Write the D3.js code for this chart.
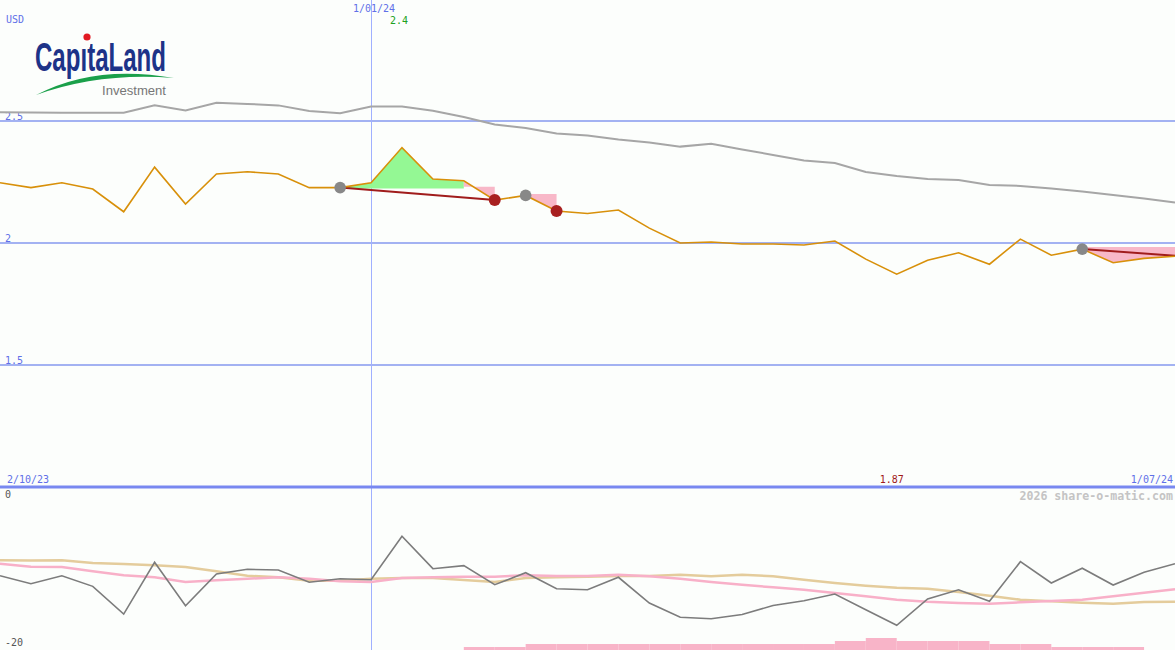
<!DOCTYPE html>
<html><head><meta charset="utf-8">
<script src="https://cdn.jsdelivr.net/npm/d3@7/dist/d3.min.js"></script>
<style>
html,body{margin:0;padding:0;background:#fcfefc;}
svg{display:block;}
</style></head>
<body>
<svg id="c" width="1175" height="650"></svg>
<script>
// ---- data ----
const xTickLabels = ["2/10/23", "1/01/24", "1/07/24"];
const xTickIndex = [0, 12, 38];
const yTicks = [2.5, 2, 1.5];
const lowerTicks = [0, -20];
const currency = "USD";
const price = [2.247,2.227,2.247,2.221,2.128,2.311,2.160,2.283,2.292,2.283,2.227,2.227,2.247,2.391,2.262,2.255,2.176,2.195,2.131,2.121,2.135,2.061,2.000,2.004,1.996,1.996,1.992,2.008,1.934,1.872,1.929,1.960,1.913,2.016,1.950,1.975,1.919,1.937,1.946];
const avgLine = [2.536,2.535,2.534,2.534,2.534,2.564,2.543,2.575,2.570,2.564,2.541,2.532,2.559,2.559,2.542,2.516,2.486,2.471,2.449,2.441,2.424,2.412,2.395,2.407,2.383,2.361,2.338,2.328,2.291,2.275,2.262,2.258,2.238,2.234,2.223,2.211,2.197,2.182,2.166];
const oscGray = [-10.83,-11.81,-10.83,-12.14,-15.56,-9.17,-14.53,-10.62,-10.04,-10.12,-11.64,-11.20,-11.32,-5.96,-9.96,-9.59,-11.94,-10.46,-12.43,-12.56,-11.02,-14.20,-15.96,-16.14,-15.62,-14.51,-13.91,-13.09,-15.02,-16.95,-13.70,-12.56,-13.99,-9.10,-11.73,-9.91,-11.98,-10.41,-9.35];
const oscTan = [-8.93,-8.95,-8.93,-9.26,-9.38,-9.54,-9.75,-10.28,-10.83,-11.02,-11.44,-11.44,-11.20,-11.11,-11.11,-11.36,-11.60,-11.11,-11.02,-10.95,-10.86,-10.86,-10.70,-10.90,-10.70,-10.90,-11.32,-11.73,-12.06,-12.31,-12.43,-12.84,-13.30,-13.79,-13.99,-14.16,-14.28,-14.07,-14.04];
const oscPink = [-9.35,-9.72,-9.75,-10.28,-10.78,-11.02,-11.60,-11.40,-11.20,-11.02,-11.20,-11.52,-11.60,-11.11,-11.02,-10.95,-10.95,-10.78,-10.86,-10.86,-10.70,-10.90,-11.20,-11.60,-11.94,-12.26,-12.56,-12.96,-13.37,-13.79,-14.04,-14.20,-14.28,-14.11,-13.95,-13.79,-13.37,-12.93,-12.51];
const barLevels = [0,0,0,0,0,0,0,0,0,0,0,0,0,0,0,1,1,2,2,2,2,2,2,2,2,2,2,3,4,3,3,3,2,2,1,1,1,0];
// signal overlays: [startIndex, endIndex, level, kind]
const fillZones = [[11,15,2.223,"gain"],[15,16,2.2307,"loss"],[17,18,2.2008,"loss"],[35,38,1.9836,"loss"]];
const trendLines = [[11,2.227,16,2.176],[35,1.975,38,1.948]];
const grayDots = [11,17,35];
const redDots = [16,18];
const maxLabel = "2.4", minLabel = "1.87";

// ---- scales ----
const W = 1175, H = 650;
const MONO = "'DejaVu Sans Mono', monospace";
const SANS = "'Liberation Sans', Arial, sans-serif";
const svg = d3.select("#c");
const x = d3.scaleLinear().domain([0, price.length - 1]).range([0, W]);
const y = d3.scaleLinear().domain([1, 3]).range([487, -1]);
const yl = d3.scaleLinear().domain([-20, 0]).range([650, 488]);
const bh = d3.scaleLinear().domain([0, 4]).range([0, 12]);

svg.append("rect").attr("width", W).attr("height", H).attr("fill", "#fcfefc");

// grid
svg.selectAll(".gl").data(yTicks).enter().append("line")
  .attr("x1", 0).attr("x2", W).attr("y1", d => y(d)).attr("y2", d => y(d))
  .attr("stroke", "#a3b2f2").attr("stroke-width", 2);
svg.selectAll(".gt").data(yTicks).enter().append("text")
  .attr("x", 5).attr("y", d => y(d) - 1).text(d => d)
  .style("font-family", MONO).attr("fill", "#6070e8").attr("font-size", 10);

// vertical date line
const vx = Math.round(x(xTickIndex[1])) + 0.5;
svg.append("line").attr("x1", vx).attr("x2", vx).attr("y1", 0).attr("y2", H)
  .attr("stroke", "#a0b0ff").attr("stroke-width", 1);

// separator
svg.append("line").attr("x1", 0).attr("x2", W).attr("y1", 487).attr("y2", 487)
  .attr("stroke", "#7888f0").attr("stroke-width", 3);

// logo
const logo = svg.append("g");
logo.append("text").attr("x", 35).attr("y", 71).text("CapitaLand")
  .style("font-family", SANS).style("font-weight", "bold")
  .attr("font-size", 40).attr("fill", "#1d3388").attr("textLength", 131).attr("lengthAdjust", "spacingAndGlyphs");
logo.append("rect").attr("x", 81).attr("y", 38).attr("width", 9).attr("height", 9).attr("fill", "#fcfefc");
logo.append("circle").attr("cx", 87).attr("cy", 37).attr("r", 3.6).attr("fill", "#e21a22");
logo.append("path").attr("d", "M36,95 Q95,64 174,78 Q100,72 36,95Z").attr("fill", "#1aa04a");
logo.append("text").attr("x", 102).attr("y", 95).text("Investment")
  .style("font-family", SANS)
  .attr("font-size", 13).attr("fill", "#777").attr("textLength", 64).attr("lengthAdjust", "spacingAndGlyphs");

// fills
fillZones.forEach(([a, b, lvl, kind]) => {
  const pts = d3.range(a, b + 1).map(i => [x(i), y(price[i])]);
  pts.push([x(b), y(lvl)], [x(a), y(lvl)]);
  svg.append("path").attr("d", d3.line()(pts) + "Z")
    .attr("fill", kind === "gain" ? "#94f894" : "#f8b8c8");
});

// avg line
svg.append("path").datum(avgLine)
  .attr("d", d3.line().x((d, i) => x(i)).y(d => y(d)))
  .attr("fill", "none").attr("stroke", "#a6a6a6").attr("stroke-width", 2);

// trend lines
trendLines.forEach(([i0, v0, i1, v1]) => {
  svg.append("line").attr("x1", x(i0)).attr("y1", y(v0)).attr("x2", x(i1)).attr("y2", y(v1))
    .attr("stroke", "#a01c1c").attr("stroke-width", 2);
});

// price line
svg.append("path").datum(price)
  .attr("d", d3.line().x((d, i) => x(i)).y(d => y(d)))
  .attr("fill", "none").attr("stroke", "#d8900a").attr("stroke-width", 1.6);

svg.selectAll(".gd").data(grayDots).enter().append("circle")
  .attr("cx", d => x(d)).attr("cy", d => y(price[d])).attr("r", 5.8).attr("fill", "#888");
svg.selectAll(".rd").data(redDots).enter().append("circle")
  .attr("cx", d => x(d)).attr("cy", d => y(price[d])).attr("r", 6).attr("fill", "#a82020");

// labels
const mono = (t, px, py, col, anchor, size, weight) => svg.append("text").attr("x", px).attr("y", py).text(t)
  .style("font-family", MONO)
  .attr("fill", col).attr("font-size", size || 10).attr("text-anchor", anchor || "start").attr("font-weight", weight || "normal");
mono(currency, 6, 23, "#6070e8");
mono(xTickLabels[1], x(xTickIndex[1]) + 3, 12, "#6070e8", "middle");
mono(maxLabel, x(d3.maxIndex(price)) - 3, 24, "#20a020", "middle");
mono(xTickLabels[0], 7, 483, "#6070e8");
mono(xTickLabels[2], x(xTickIndex[2]) - 2, 483, "#6070e8", "end");
mono(minLabel, x(d3.minIndex(price)) - 5, 483, "#a01818", "middle");
mono("2026 share-o-matic.com", 1173, 500, "#c4c4c4", "end", 11.6, "bold");
lowerTicks.forEach((t, k) => mono(String(t), 5, k === 0 ? yl(t) + 10 : yl(t) - 4, "#555"));

// lower panel
svg.selectAll(".bar").data(barLevels).enter().append("rect")
  .attr("x", (d, i) => x(i)).attr("width", (d, i) => x(i + 1) - x(i))
  .attr("y", d => 650 - bh(d)).attr("height", d => bh(d)).attr("fill", "#f8b4c8");
const ll = d3.line().x((d, i) => x(i)).y(d => yl(d));
svg.append("path").datum(oscTan).attr("d", ll).attr("fill", "none").attr("stroke", "#e4cc9c").attr("stroke-width", 2.5);
svg.append("path").datum(oscPink).attr("d", ll).attr("fill", "none").attr("stroke", "#f8b0c8").attr("stroke-width", 2.5);
svg.append("path").datum(oscGray).attr("d", ll).attr("fill", "none").attr("stroke", "#7c7c7c").attr("stroke-width", 1.6);
</script>
</body></html>
